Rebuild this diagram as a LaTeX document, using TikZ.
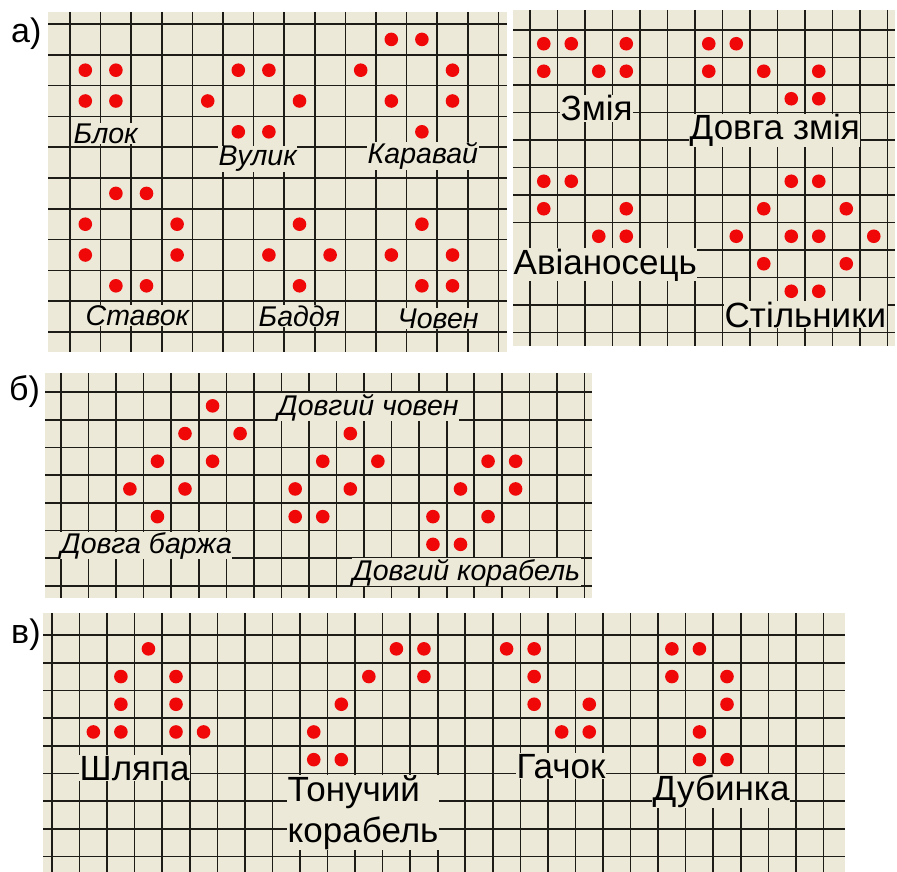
\documentclass[tikz,border=0pt]{standalone}
\usepackage{fontspec}
\setmainfont{Liberation Sans}
\definecolor{boardbg}{RGB}{236,233,216}
\definecolor{gridcol}{RGB}{30,28,22}
\definecolor{cellred}{RGB}{240,8,8}
\begin{document}
\begin{tikzpicture}[x=1pt, y=-1pt,
          board/.style={fill=boardbg},
          gridline/.style={draw=gridcol, line width=1.6pt},
          alive/.style={fill=cellred},
          itname/.style={fill=boardbg, inner sep=0.5pt, anchor=base west, font=\fontsize{28.5}{33}\selectfont\itshape},
          upname/.style={fill=boardbg, inner sep=0.5pt, anchor=base west, font=\fontsize{35}{41}\selectfont},
          panelmark/.style={inner sep=0pt, anchor=base west, font=\fontsize{34}{38}\selectfont}]
        \useasboundingbox (0,0) rectangle (897,872);
        % a) left board
        \fill[board] (48,12) rectangle (507,352);
        \foreach \i in {0,...,14} \draw[gridline] ({70+30.6*\i},12) -- ({70+30.6*\i},352);
        \foreach \j in {0,...,10} \draw[gridline] (48,{24+30.8*\j}) -- (507,{24+30.8*\j});
        \foreach \i/\j in {0/1,1/1,0/2,1/2, 5/1,6/1,4/2,7/2,5/3,6/3, 10/0,11/0,9/1,12/1,10/2,12/2,11/3,
                           1/5,2/5,0/6,3/6,0/7,3/7,1/8,2/8, 7/6,6/7,8/7,7/8, 11/6,10/7,12/7,11/8,12/8}
          \fill[alive] ({85.3+30.6*\i},{39.4+30.8*\j}) circle (6.8);
        % a) right board
        \fill[board] (513,10) rectangle (895,346);
        \foreach \i in {0,...,13} \draw[gridline] ({530+27.5*\i},10) -- ({530+27.5*\i},346);
        \foreach \j in {0,...,11} \draw[gridline] (513,{30+27.5*\j}) -- (895,{30+27.5*\j});
        \foreach \i/\j in {0/0,1/0,3/0,0/1,2/1,3/1, 6/0,7/0,6/1,8/1,10/1,9/2,10/2, 0/5,1/5,0/6,3/6,2/7,3/7,
                           9/5,10/5,8/6,11/6,7/7,9/7,10/7,12/7,8/8,11/8,9/9,10/9}
          \fill[alive] ({543.75+27.5*\i},{43.75+27.5*\j}) circle (6.8);
        % b) board
        \fill[board] (45,373) rectangle (592,598);
        \foreach \i in {0,...,19} \draw[gridline] ({61+27.55*\i},373) -- ({61+27.55*\i},598);
        \foreach \j in {0,...,7} \draw[gridline] (45,{392+27.7*\j}) -- (592,{392+27.7*\j});
        \foreach \i/\j in {5/0,4/1,6/1,3/2,5/2,2/3,4/3,3/4, 10/1,9/2,11/2,8/3,10/3,8/4,9/4,
                           15/2,16/2,14/3,16/3,13/4,15/4,13/5,14/5}
          \fill[alive] ({74.8+27.55*\i},{405.85+27.7*\j}) circle (6.8);
        % v) board
        \fill[board] (43,613) rectangle (845,872);
        \foreach \i in {0,...,28} \draw[gridline] ({52+27.55*\i},613) -- ({52+27.55*\i},872);
        \foreach \j in {0,...,8} \draw[gridline] (43,{635+27.7*\j}) -- (845,{635+27.7*\j});
        \foreach \i/\j in {3/0,2/1,4/1,2/2,4/2,1/3,2/3,4/3,5/3, 12/0,13/0,11/1,13/1,10/2,9/3,9/4,10/4,
                           16/0,17/0,17/1,17/2,19/2,18/3,19/3, 22/0,23/0,22/1,24/1,24/2,23/3,23/4,24/4}
          \fill[alive] ({65.8+27.55*\i},{648.85+27.7*\j}) circle (6.8);
        \node[panelmark] (ma) at (11,43) {а)};
        \node[panelmark] (mb) at (9,400) {б)};
        \node[panelmark] (mv) at (11,643) {в)};
        \node[itname] (blok) at (73,143) {Блок};
        \node[itname] (vulyk) at (218,166) {Вулик};
        \node[itname] (korovai) at (367,164) {Каравай};
        \node[itname] (stavok) at (85,325) {Ставок};
        \node[itname] (baddia) at (258,326) {Баддя};
        \node[itname] (choven) at (397,328) {Човен};
        \node[upname] (zmiia) at (560,121) {Змія};
        \node[upname] (dovzmiia) at (689,140) {Довга змія};
        \node[upname] (avianos) at (513,274) {Авіаносець};
        \node[upname] (stilnyky) at (724,327) {Стільники};
        \node[itname] (barzha) at (60,553) {Довга баржа};
        \node[itname] (dovchoven) at (277,415) {Довгий човен};
        \node[itname] (korabel) at (352,580) {Довгий корабель};
        \node[upname] (shliapa) at (79,780) {Шляпа};
        \node[upname, align=left] (tonuchyi) at (287,842) {Тонучий\\корабель};
        \node[upname] (hachok) at (516,778) {Гачок};
        \node[upname] (dubynka) at (652,800) {Дубинка};
      \end{tikzpicture}
\end{document}
